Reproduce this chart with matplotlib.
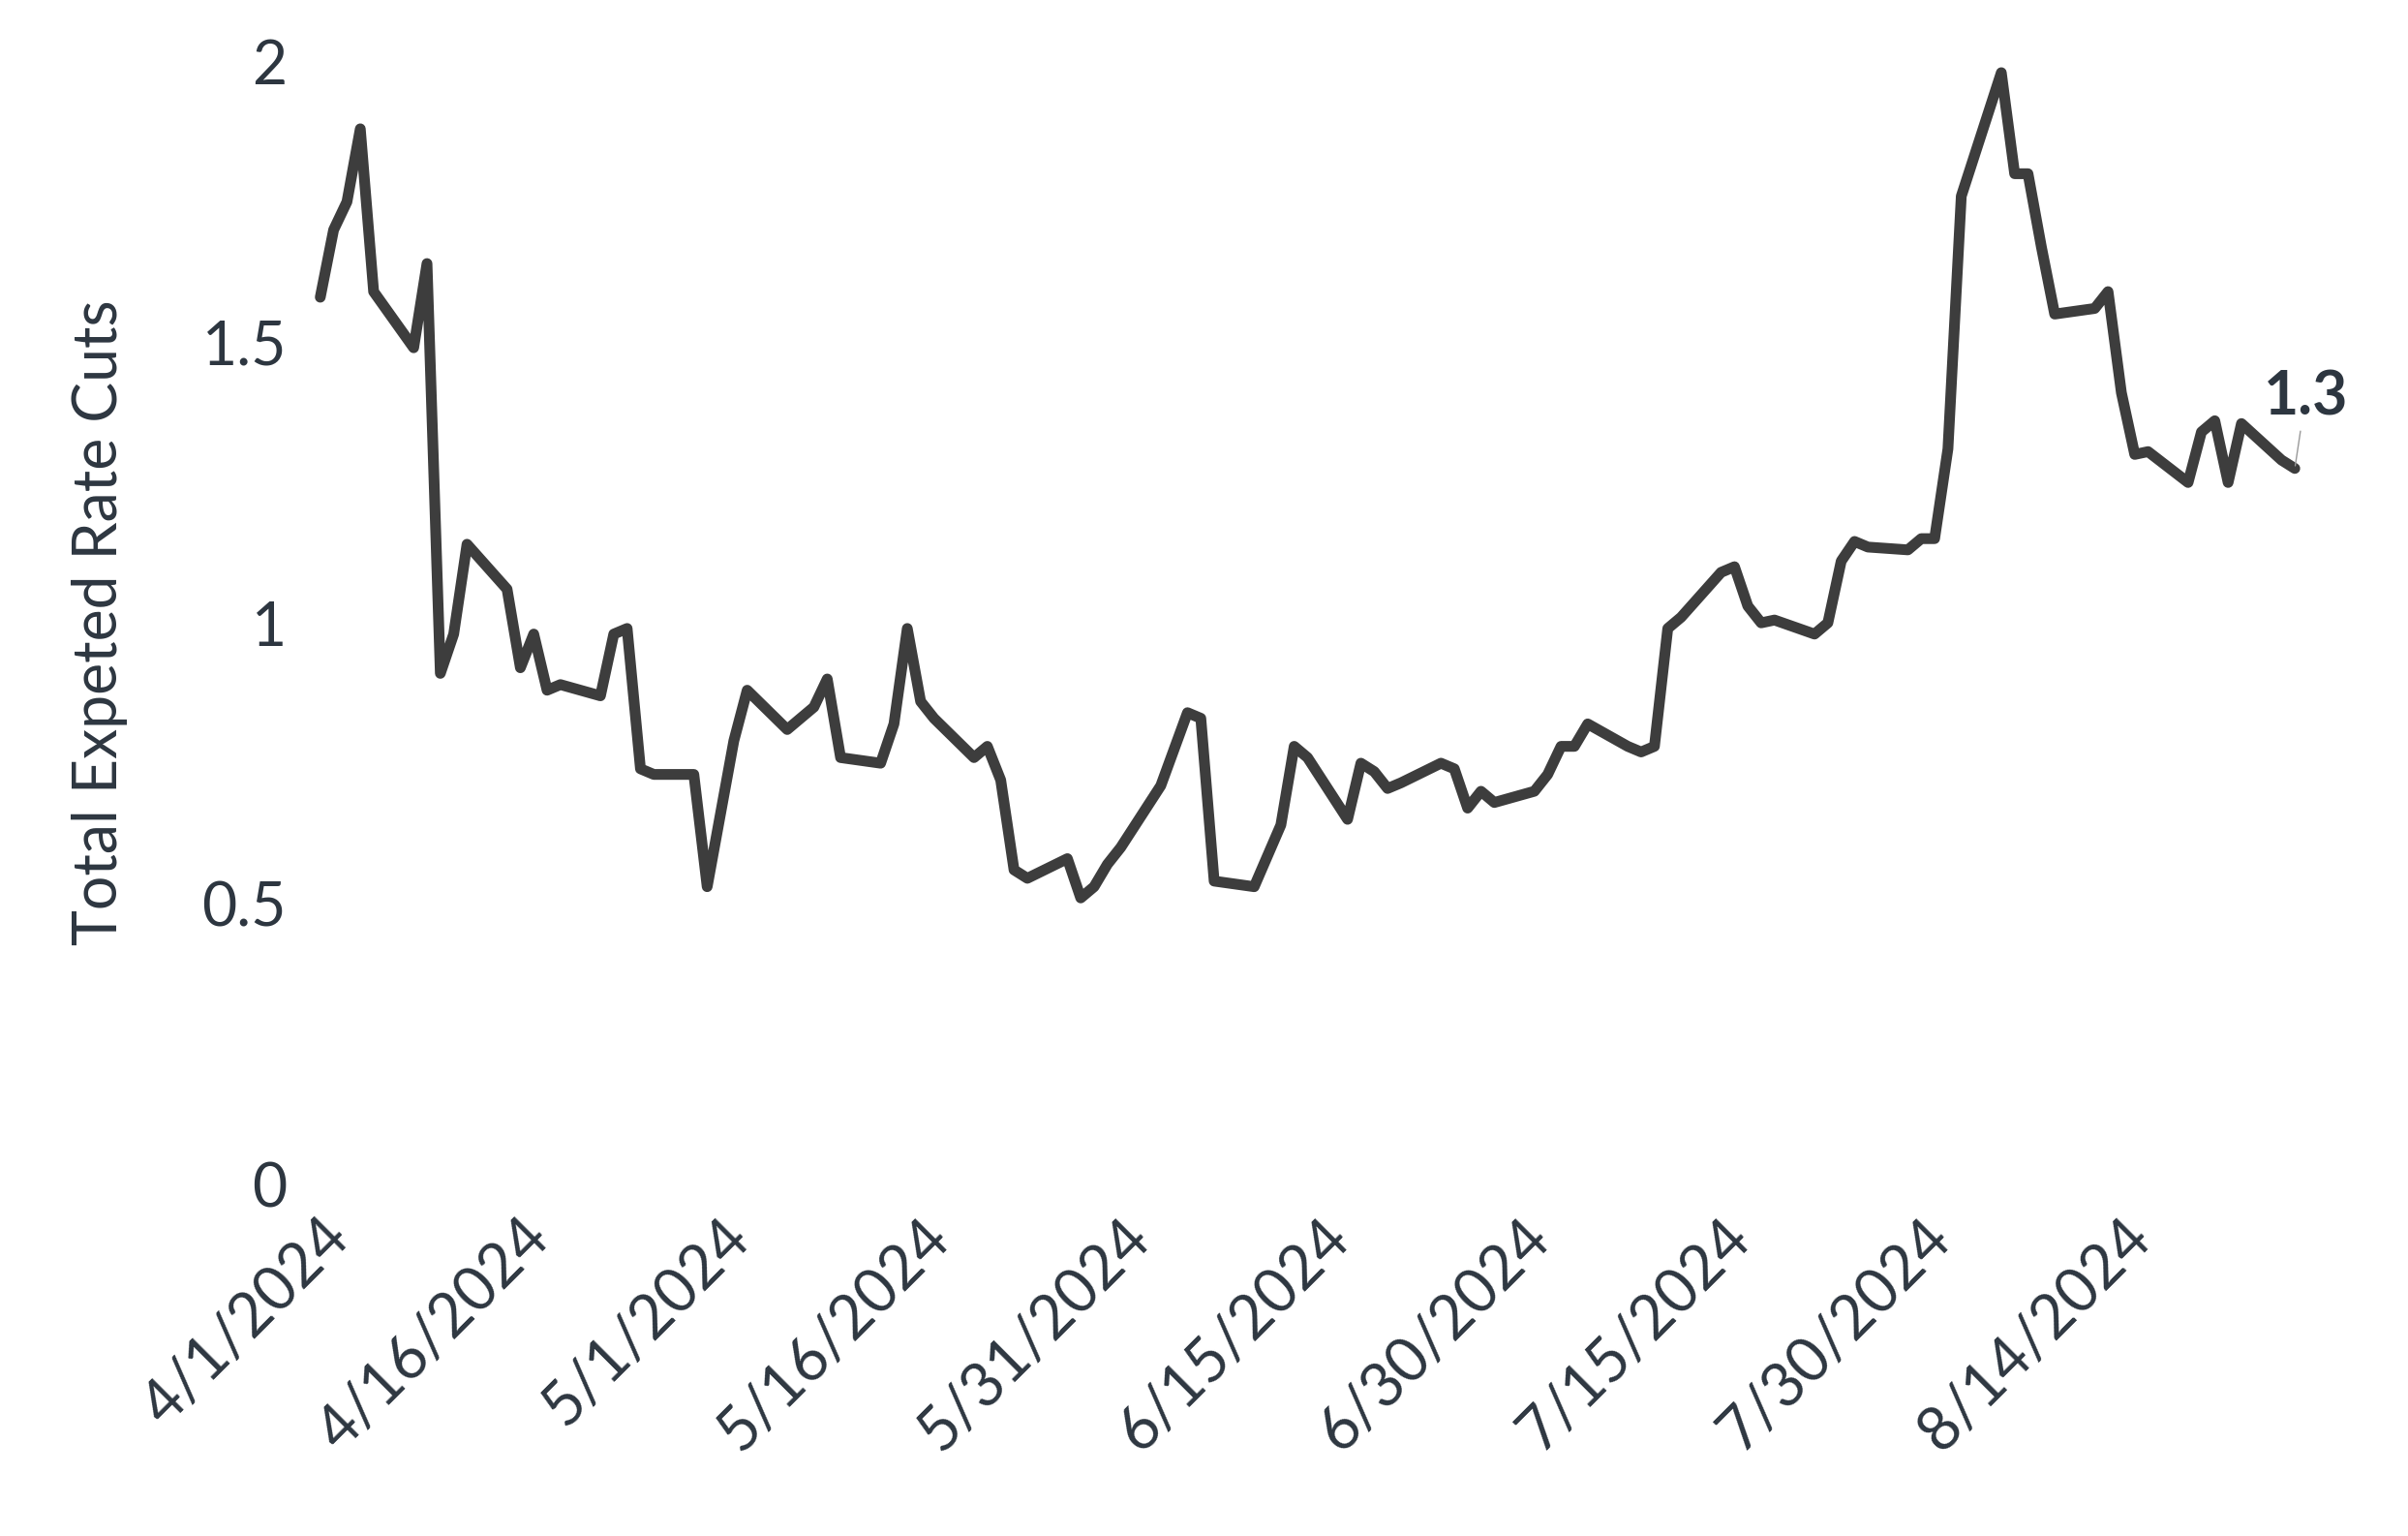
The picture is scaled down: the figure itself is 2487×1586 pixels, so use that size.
import matplotlib
matplotlib.use("Agg")
import matplotlib.pyplot as plt
import numpy as np

# day offset from 4/1/2024 and expected cuts
days = [0, 1, 2, 3, 4, 7, 8, 9, 10, 11, 14, 15, 16, 17, 18, 21, 22, 23, 24, 25,
        28, 29, 31, 32, 35, 36, 37, 38, 39, 42, 43, 44, 45, 46, 49, 50, 51, 52, 53,
        56, 57, 58, 59, 60, 63, 65, 66, 67, 70, 72, 73, 74, 77, 78, 79, 80, 81,
        84, 85, 86, 87, 88, 91, 92, 93, 94, 95, 98, 99, 100, 101, 102, 105, 106,
        107, 108, 109, 112, 113, 114, 115, 116, 119, 120, 121, 122, 123, 126, 127,
        128, 129, 130, 133, 134, 135, 136, 137, 140, 141, 142, 143, 144, 147, 148]
cuts = [1.58, 1.70, 1.75, 1.88, 1.59, 1.49, 1.64, 0.91, 0.98, 1.14, 1.06, 0.92,
        0.98, 0.88, 0.89, 0.87, 0.98, 0.99, 0.74, 0.73, 0.73, 0.53, 0.79, 0.88,
        0.81, 0.83, 0.85, 0.90, 0.76, 0.75, 0.82, 0.99, 0.86, 0.83, 0.76, 0.78,
        0.72, 0.56, 0.545, 0.58, 0.51, 0.53, 0.57, 0.60, 0.71, 0.84, 0.83, 0.54,
        0.53, 0.64, 0.78, 0.76, 0.65, 0.75, 0.735, 0.705, 0.715, 0.75, 0.74, 0.67,
        0.70, 0.68, 0.70, 0.73, 0.78, 0.78, 0.82, 0.78, 0.77, 0.78, 0.99, 1.01,
        1.09, 1.10, 1.03, 1.00, 1.005, 0.98, 1.00, 1.11, 1.145, 1.135, 1.13, 1.15,
        1.15, 1.31, 1.76, 1.98, 1.80, 1.80, 1.67, 1.55, 1.56, 1.59, 1.41, 1.30,
        1.305, 1.25, 1.34, 1.36, 1.25, 1.355, 1.29, 1.275]
tick_days = [0, 15, 30, 45, 60, 75, 90, 105, 120, 135]
tick_labels = ["4/1/2024", "4/16/2024", "5/1/2024", "5/16/2024", "5/31/2024",
               "6/15/2024", "6/30/2024", "7/15/2024", "7/30/2024", "8/14/2024"]
y_ticks = [0, 0.5, 1, 1.5, 2]
y_labels = ["0", "0.5", "1", "1.5", "2"]

txt = "#2d3640"
plt.rcParams['font.family'] = ['Lato', 'DejaVu Sans']

fig = plt.figure(figsize=(24.87, 15.86), dpi=100)
ax = fig.add_axes([0.133, 0.229, 0.82, 0.731])
ax.plot(days, cuts, color="#3d3d3d", linewidth=8, solid_joinstyle='round',
        solid_capstyle='round', clip_on=False)
ax.set_xlim(0, 148)
ax.set_ylim(0, 2)
for s in ax.spines.values():
    s.set_visible(False)
ax.set_xticks(tick_days)
ax.set_xticklabels(tick_labels, rotation=45, ha='right', rotation_mode='anchor',
                   fontsize=45, color=txt)
ax.set_yticks(y_ticks)
ax.set_yticklabels(y_labels, fontsize=45, color=txt)
ax.tick_params(length=0, pad=25)
ax.tick_params(axis='x', pad=18)
ax.set_ylabel("Total Expeted Rate Cuts", fontsize=45, color=txt, labelpad=55)

ax.annotate("1.3", xy=(days[-1], cuts[-1]), xytext=(days[-1] + 0.8, 1.37),
            fontsize=45, fontweight='bold', color=txt, ha='center',
            arrowprops=dict(arrowstyle='-', color='#999999', lw=1),
            annotation_clip=False)

fig.savefig("out.png", dpi=100, facecolor='white')
